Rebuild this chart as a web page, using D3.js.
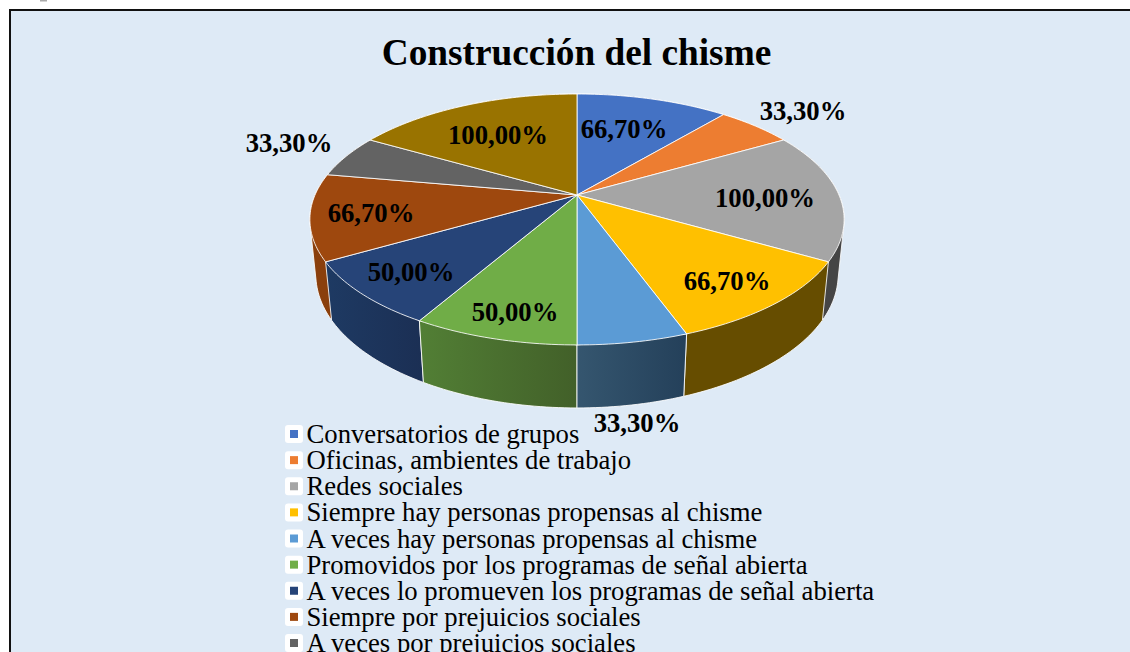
<!DOCTYPE html>
<html>
<head>
<meta charset="utf-8">
<script src="https://cdn.jsdelivr.net/npm/d3@7"></script>
<style>
  html, body { margin: 0; padding: 0; background: #fff; overflow: hidden; }
  text { font-family: "Liberation Serif", serif; fill: #000; }
</style>
</head>
<body>
<svg class="chart" width="1130" height="652"></svg>
<script>
const title = "Construcción del chisme";
const values = [66.7, 33.3, 100, 66.7, 33.3, 50, 50, 66.7, 33.3, 100];
const labels = ["66,70%", "33,30%", "100,00%", "66,70%", "33,30%", "50,00%", "50,00%", "66,70%", "33,30%", "100,00%"];
// the tenth legend row falls below the crop of the picture
const legendLabels = [
  "Conversatorios de grupos",
  "Oficinas, ambientes de trabajo",
  "Redes sociales",
  "Siempre hay personas propensas al chisme",
  "A veces hay personas propensas al chisme",
  "Promovidos por los programas de señal abierta",
  "A veces lo promueven los programas de señal abierta",
  "Siempre por prejuicios sociales",
  "A veces por prejuicios sociales"
];
const colors = ["#4472C4", "#ED7D31", "#A5A5A5", "#FFC000", "#5B9BD5", "#70AD47", "#264478", "#9E480E", "#636363", "#997300"];
const wallLeft = ["#2a4676", "#8e4b1d", "#454545", "#664d00", "#35566f", "#527f35", "#1e3a63", "#8a3f0c", "#3b3b3b", "#5c4500"];
const wallRight = ["#2a4676", "#8e4b1d", "#454545", "#664d00", "#24405a", "#426029", "#1b2f54", "#8a3f0c", "#3b3b3b", "#5c4500"];

// label centres, measured from the pie apex
const labelDx = [47, 226, 188, 150, 60, -62, -166, -206, -288, -79];
const labelDy = [-66, -84, 3, 86, 228, 117, 77, 18, -52, -60];

const svg = d3.select(".chart");
const defs = svg.append("defs");

// scrap of the text above the frame, cropped in the picture
svg.append("rect")
    .attr("x", 40).attr("y", 0)
    .attr("width", 7).attr("height", 1.5)
    .attr("fill", "#aaa");

// frame runs off the right and bottom of the picture
svg.append("rect")
    .attr("x", 10).attr("y", 10)
    .attr("width", 1140).attr("height", 680)
    .attr("fill", "#DEEAF6")
    .attr("stroke", "#111")
    .attr("stroke-width", 2);

svg.append("text")
    .attr("x", 576.5).attr("y", 65)
    .style("text-anchor", "middle")
    .style("font-weight", "bold")
    .style("font-size", "37.3px")
    .text(title);

// perspective of the tilted disc
const cx = 577, cy = 195;
const R = 262, S = 120.7, k = 0.195;
const depth = 55.4, depthK = 0.022;

const project = (a, r, h) => {
  const u = Math.sin(a) * r;
  const v = -Math.cos(a) * r;
  const d = 1 - k * v + depthK * h;
  return [cx + R * u / d, cy + (S * v + depth * h) / d];
};

const pie = d3.pie().sort(null);
const slices = pie(values).map((s, i) => ({...s, i}));
const line = d3.line();

const rim = (s, h) => {
  const n = Math.ceil((s.endAngle - s.startAngle) / 0.02);
  return d3.range(n + 1).map(j => project(s.startAngle + (s.endAngle - s.startAngle) * j / n, 1, h));
};

// walls, furthest first
const walls = slices.slice().sort((a, b) =>
  Math.abs((b.startAngle + b.endAngle) / 2 - Math.PI) - Math.abs((a.startAngle + a.endAngle) / 2 - Math.PI));

walls.forEach(s => {
  const g = defs.append("linearGradient").attr("id", "wall" + s.i);
  g.append("stop").attr("offset", 0).attr("stop-color", wallLeft[s.i]);
  g.append("stop").attr("offset", 1).attr("stop-color", wallRight[s.i]);
});

// hull so the silhouette runs straight down from the rim at the sides
svg.append("g").selectAll("path")
  .data(walls)
  .enter().append("path")
    .attr("d", s => line(d3.polygonHull(rim(s, 0).concat(rim(s, 1)))) + "Z")
    .attr("fill", s => "url(#wall" + s.i + ")")
    .attr("stroke", "#fff")
    .attr("stroke-opacity", 0.85)
    .attr("stroke-width", 1)
    .attr("stroke-linejoin", "round");

// top of the disc
svg.append("g").selectAll("path")
  .data(slices)
  .enter().append("path")
    .attr("d", s => line([project(0, 0, 0)].concat(rim(s, 0))) + "Z")
    .attr("fill", s => colors[s.i])
    .attr("stroke", "#fff")
    .attr("stroke-opacity", 0.85)
    .attr("stroke-width", 1)
    .attr("stroke-linejoin", "round");

svg.append("g").selectAll("text")
  .data(labels)
  .enter().append("text")
    .attr("x", (d, i) => cx + labelDx[i])
    .attr("y", (d, i) => cy + labelDy[i])
    .attr("dy", ".33em")
    .style("text-anchor", "middle")
    .style("font-weight", "bold")
    .style("font-size", "26.7px")
    .text(d => d);

// legend
const y = d3.scalePoint().domain(legendLabels).range([435, 644]);

const legend = svg.selectAll(".legend")
    .data(legendLabels)
  .enter().append("g")
    .attr("class", "legend")
    .attr("transform", d => "translate(294," + y(d) + ")");

legend.append("rect")
    .attr("x", -9).attr("y", -10)
    .attr("width", 18).attr("height", 18)
    .attr("rx", 3)
    .attr("fill", "#fff");

legend.append("rect")
    .attr("x", -4).attr("y", -5)
    .attr("width", 8).attr("height", 8)
    .attr("fill", (d, i) => colors[i]);

legend.append("text")
    .attr("x", 12.5).attr("y", 8)
    .style("font-size", "26.7px")
    .text(d => d);
</script>
</body>
</html>
